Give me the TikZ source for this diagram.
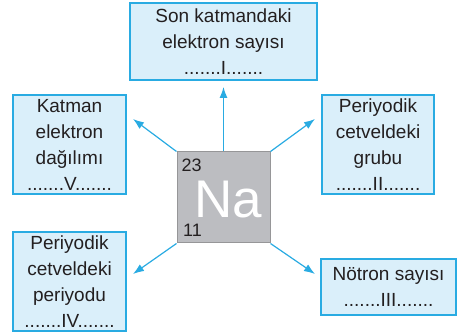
\documentclass[tikz,border=0pt]{standalone}
\usepackage{fontspec}
\setmainfont{Liberation Sans}
\usepackage{tikz}
\usetikzlibrary{arrows.meta, positioning}
\definecolor{boxline}{RGB}{41, 171, 226}
\definecolor{boxfill}{RGB}{218, 239, 250}
\definecolor{elemfill}{RGB}{188, 189, 193}
\definecolor{elemline}{RGB}{150, 150, 152}
\definecolor{textcolor}{RGB}{35, 31, 32}

\tikzset{
    infobox/.style={draw=boxline, fill=boxfill, line width=1.1pt, align=center, inner sep=2pt,
        font=\fontsize{19}{26}\selectfont, text=textcolor},
    corner/.style={text=textcolor, font=\fontsize{18}{18}\selectfont, inner sep=0pt, text height=13pt, text depth=0pt},
    pointer/.style={draw=boxline, line width=1.2pt, -{Latex[length=11pt,width=8pt]}}
}

\begin{document}
\begin{tikzpicture}[x=1pt, y=-1pt]
\useasboundingbox (0,0) rectangle (461,336);

% element square
\node[draw=elemline, fill=elemfill, line width=1pt, minimum width=93pt, minimum height=91pt, inner sep=0pt] (na) at (223.5,197.5) {};
\node[text=white, font=\fontsize{53}{53}\selectfont, inner sep=0pt, text height=38pt, text depth=0pt, anchor=base] (symbol) at (228,218) {Na};
\node[corner, anchor=base west] (mass) at (181.5,172) {23};
\node[corner, anchor=base west] (atomic) at (183,237) {11};

% boxes
\node[infobox, minimum width=187pt, minimum height=77pt] (valence) at (223.5,41.5) {Son katmandaki\\elektron sayısı\\.......I.......};
\node[infobox, minimum width=113pt, minimum height=99pt] (shells) at (69.5,144.5) {Katman\\elektron\\dağılımı\\.......V.......};
\node[infobox, minimum width=112pt, minimum height=99pt] (group) at (378,144.5) {Periyodik\\cetveldeki\\grubu\\.......II.......};
\node[infobox, minimum width=113pt, minimum height=99pt] (period) at (69.5,281.5) {Periyodik\\cetveldeki\\periyodu\\.......IV.......};
\node[infobox, minimum width=135pt, minimum height=56pt] (neutron) at (388.5,287) {Nötron sayısı\\.......III.......};

% arrow tips
\coordinate (tipI) at (223.5,87);
\coordinate (tipV) at (133,119);
\coordinate (tipII) at (315,119);
\coordinate (tipIV) at (133,274);
\coordinate (tipIII) at (315,274);

\draw[pointer] (na.north) -- (tipI);
\draw[pointer] (na.north west) -- (tipV);
\draw[pointer] (na.north east) -- (tipII);
\draw[pointer] (na.south west) -- (tipIV);
\draw[pointer] (na.south east) -- (tipIII);
\end{tikzpicture}
\end{document}
